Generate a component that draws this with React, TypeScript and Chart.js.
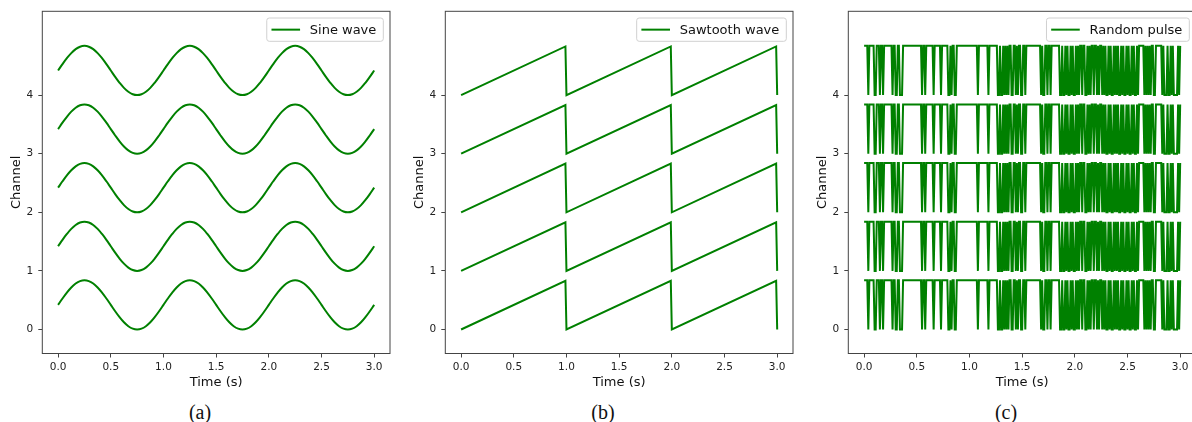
import React, { useEffect, useRef } from "react";
import { Chart, registerables } from "chart.js";

Chart.register(...registerables);

// ---------- data ----------
const channels = [0, 1, 2, 3, 4];
const xTicks = [0, 0.5, 1, 1.5, 2, 2.5, 3];
const yTicks = [0, 1, 2, 3, 4];
const xMin = -0.15;
const xMax = 3.15;
const yMin = -0.41;
const yMax = 5.43;

// one period of the sine wave (24 samples per second)
const sineCycleValues = [
  0.42, 0.529, 0.63, 0.717, 0.784, 0.826, 0.84, 0.826, 0.784, 0.717, 0.63, 0.529,
  0.42, 0.311, 0.21, 0.123, 0.056, 0.014, 0.0, 0.014, 0.056, 0.123, 0.21, 0.311,
];
const sinePeriodStarts = [0, 1, 2];
const sineEndTime = 3;

// sawtooth corner points
const sawTimes = [0, 0.99, 1.0, 1.99, 2.0, 2.99, 3.0];
const sawValues = [0, 0.83, 0, 0.83, 0, 0.83, 0];

// random pulse: high level, sample step and the samples (in hundredths of a second) that are low
const pulseHigh = 0.84;
const pulseStep = 0.01;
const pulseSampleCount = 301;
const pulseOffSamples = [
  4, 10, 11, 15, 18, 27, 30, 31, 34, 35, 36, 55, 58, 66, 73, 80, 81, 83, 86, 87,
  108, 118, 127, 128, 130, 131, 133, 135, 137, 140, 141, 144, 146, 149,
  150, 153, 168, 170, 171, 174, 177, 186, 187, 189, 190, 192, 194, 195, 197, 199,
  200, 202, 204, 207, 210, 211, 213, 215, 218, 221, 223, 226, 228,
  230, 231, 233, 235, 236, 238, 240, 242, 243, 245, 247, 248, 250, 252, 253, 255,
  257, 258, 260, 266, 268, 270, 272, 275, 276, 283, 285, 286, 287, 289, 290, 292,
  294, 295, 296, 297, 299,
];

const legendLabels = ["Sine wave", "Sawtooth wave", "Random pulse"];
const captions = ["(a)", "(b)", "(c)"];

// ---------- builders ----------
type Pt = { x: number; y: number };

function sinePoints(c: number): Pt[] {
  const pts: Pt[] = [];
  const n = sineCycleValues.length;
  sinePeriodStarts.forEach((p) => {
    sineCycleValues.forEach((v, k) => pts.push({ x: p + k / n, y: c + v }));
  });
  pts.push({ x: sineEndTime, y: c + sineCycleValues[0] });
  return pts;
}

function sawPoints(c: number): Pt[] {
  return sawTimes.map((t, i) => ({ x: t, y: c + sawValues[i] }));
}

const offSet = new Set(pulseOffSamples);
function pulsePoints(c: number): Pt[] {
  const pts: Pt[] = [];
  for (let k = 0; k < pulseSampleCount; k++) {
    pts.push({ x: +(k * pulseStep).toFixed(2), y: c + (offSet.has(k) ? 0 : pulseHigh) });
  }
  return pts;
}

const builders = [sinePoints, sawPoints, pulsePoints];
const tensions = [0.4, 0, 0];

const LINE_COLOR = "#008000";
const FONT = "DejaVu Sans";

const framePlugin = {
  id: "frameAndLegend",
  afterDraw(chart: any) {
    const { ctx, chartArea } = chart;
    const { left, top, right, bottom } = chartArea;
    ctx.save();
    ctx.strokeStyle = "#444";
    ctx.lineWidth = 1;
    ctx.strokeRect(left, top, right - left, bottom - top);

    const text: string = chart.options.plugins.customLegend.text;
    ctx.font = `13px "${FONT}"`;
    const tw = ctx.measureText(text).width;
    const boxW = 43 + tw + 7;
    const boxH = 23.3;
    const x1 = right - 6.7 - boxW;
    const y1 = top + 6.7;
    ctx.beginPath();
    if ((ctx as any).roundRect) (ctx as any).roundRect(x1, y1, boxW, boxH, 2.5);
    else ctx.rect(x1, y1, boxW, boxH);
    ctx.fillStyle = "rgba(255,255,255,0.8)";
    ctx.fill();
    ctx.strokeStyle = "#d0d0d0";
    ctx.lineWidth = 1;
    ctx.stroke();
    const cy = y1 + boxH / 2;
    ctx.beginPath();
    ctx.moveTo(x1 + 4.7, cy);
    ctx.lineTo(x1 + 33.3, cy);
    ctx.strokeStyle = LINE_COLOR;
    ctx.lineWidth = 2;
    ctx.stroke();
    ctx.fillStyle = "#111";
    ctx.textBaseline = "middle";
    ctx.textAlign = "left";
    ctx.fillText(text, x1 + 43, cy + 0.5);
    ctx.restore();
  },
};

function Panel({ index }: { index: number }) {
  const ref = useRef<HTMLCanvasElement | null>(null);
  useEffect(() => {
    if (!ref.current) return;
    const build = builders[index];
    const chart = new Chart(ref.current, {
      type: "line",
      data: {
        datasets: channels.map((c) => ({
          data: build(c),
          borderColor: LINE_COLOR,
          borderWidth: 2,
          pointRadius: 0,
          tension: tensions[index],
          fill: false,
        })),
      },
      options: {
        animation: false,
        responsive: false,
        devicePixelRatio: 1,
        layout: { padding: { top: 10, right: 13, bottom: 8.5, left: 0 } },
        plugins: {
          legend: { display: false },
          tooltip: { enabled: false },
          customLegend: { text: legendLabels[index] },
        } as any,
        scales: {
          x: {
            type: "linear",
            min: xMin,
            max: xMax,
            afterBuildTicks: (s: any) => {
              s.ticks = xTicks.map((v) => ({ value: v }));
            },
            afterFit: (s: any) => {
              s.height = 38;
            },
            ticks: {
              callback: (v: any) => Number(v).toFixed(1),
              font: { family: FONT, size: 10.5 },
              color: "#222",
              padding: 3,
              maxRotation: 0,
              autoSkip: false,
            },
            grid: {
              display: true,
              drawOnChartArea: false,
              drawTicks: true,
              tickLength: 4,
              color: "#444",
              lineWidth: 1,
            },
            border: { display: false },
            title: {
              display: true,
              text: "Time (s)",
              font: { family: FONT, size: 13 },
              color: "#111",
              padding: { top: 0, bottom: 1 },
            },
          },
          y: {
            type: "linear",
            min: yMin,
            max: yMax,
            afterBuildTicks: (s: any) => {
              s.ticks = yTicks.map((v) => ({ value: v }));
            },
            afterFit: (s: any) => {
              s.width = 42.3;
            },
            ticks: {
              callback: (v: any) => String(v),
              font: { family: FONT, size: 10.5 },
              color: "#222",
              padding: 5,
              autoSkip: false,
            },
            grid: {
              display: true,
              drawOnChartArea: false,
              drawTicks: true,
              tickLength: 4,
              color: "#444",
              lineWidth: 1,
            },
            border: { display: false },
            title: {
              display: true,
              text: "Channel",
              font: { family: FONT, size: 13 },
              color: "#111",
              padding: { top: 9, bottom: 0 },
            },
          },
        },
      } as any,
      plugins: [framePlugin],
    });
    return () => chart.destroy();
  }, [index]);

  return (
    <>
      <canvas
        ref={ref}
        width={403}
        height={400}
        style={{ position: "absolute", left: index * 403, top: 0, width: 403, height: 400, display: "block" }}
      />
      <div
        style={{
          position: "absolute",
          left: index * 403,
          top: 401,
          width: 400,
          textAlign: "center",
          fontFamily: '"Liberation Serif", "Times New Roman", serif',
          fontSize: 20,
          lineHeight: "22px",
          color: "#111",
        }}
      >
        {captions[index]}
      </div>
    </>
  );
}

export default function App() {
  return (
    <div
      style={{
        position: "fixed",
        left: 0,
        top: 0,
        width: 1192,
        height: 422,
        overflow: "hidden",
        background: "#fff",
      }}
    >
      {[0, 1, 2].map((i) => (
        <Panel key={i} index={i} />
      ))}
    </div>
  );
}
